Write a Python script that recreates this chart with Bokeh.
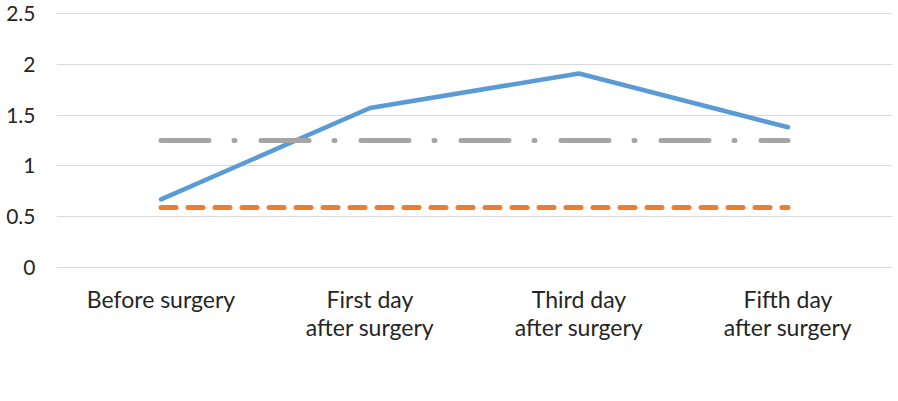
from bokeh.plotting import figure
from bokeh.models import FactorRange, Range1d, Legend, LegendItem, FixedTicker, ColumnDataSource
from bokeh.embed import file_html
from bokeh.resources import INLINE

categories = ["Before surgery", "First day\nafter surgery", "Third day\nafter surgery", "Fifth day\nafter surgery"]
ft4 = [0.67, 1.57, 1.91, 1.38]
normal_min = [0.59, 0.59, 0.59, 0.59]
normal_max = [1.25, 1.25, 1.25, 1.25]
y_ticks = [0, 0.5, 1, 1.5, 2, 2.5]
series_names = ["fT4(ng/dl)", "Normal minimum", "Normal maximum"]

FONT = "Lato"
TXT = "#262626"
FS = "23px"

src = ColumnDataSource(dict(x=categories, ft4=ft4, nmin=normal_min, nmax=normal_max))

p = figure(width=898, height=401, frame_width=836, frame_height=256,
           x_range=FactorRange(*categories, range_padding=0, factor_padding=0),
           y_range=Range1d(-0.01, 2.51), output_backend="svg", toolbar_location=None,
           min_border_left=56, min_border_right=0, min_border_top=12, min_border_bottom=0)
p.outline_line_color = None
p.background_fill_color = "white"
p.border_fill_color = "white"

r1 = p.line("x", "ft4", source=src, line_color="#5B9BD5", line_width=4.5, line_cap="round", line_join="round")
r2 = p.line("x", "nmin", source=src, line_color="#ED7D31", line_width=5, line_cap="round", line_dash="15 12")
r3 = p.line("x", "nmax", source=src, line_color="#A5A5A5", line_width=5, line_cap="round", line_dash="48 25 1 26")

p.xgrid.grid_line_color = None
p.ygrid.grid_line_color = "#d9d9d9"
p.ygrid.grid_line_width = 1

p.yaxis.ticker = FixedTicker(ticks=y_ticks)
p.yaxis.major_label_overrides = {t: f"{t:g}" for t in y_ticks}
for ax in (p.xaxis[0], p.yaxis[0]):
    ax.axis_line_color = None
    ax.major_tick_line_color = None
    ax.minor_tick_line_color = None
    ax.major_tick_in = 0
    ax.major_tick_out = 0
    ax.minor_tick_in = 0
    ax.minor_tick_out = 0
    ax.major_label_text_font = FONT
    ax.major_label_text_font_size = FS
    ax.major_label_text_color = TXT
p.yaxis.major_label_text_font_size = "21px"
p.yaxis.major_label_standoff = 21
p.xaxis.major_label_standoff = 16
p.xaxis.major_label_text_line_height = 1.0

legend = Legend(items=[LegendItem(label=series_names[0], renderers=[r1]),
                       LegendItem(label=series_names[1], renderers=[r2]),
                       LegendItem(label=series_names[2], renderers=[r3])],
                orientation="horizontal", location=(12, 2))
legend.label_text_font = FONT
legend.label_text_font_size = FS
legend.label_text_color = TXT
legend.glyph_width = 71
legend.label_standoff = 6
legend.spacing = 38
legend.border_line_color = None
legend.background_fill_alpha = 0
legend.margin = 0
legend.padding = 0
p.add_layout(legend, "below")

open("out.html", "w").write(file_html(p, INLINE))
